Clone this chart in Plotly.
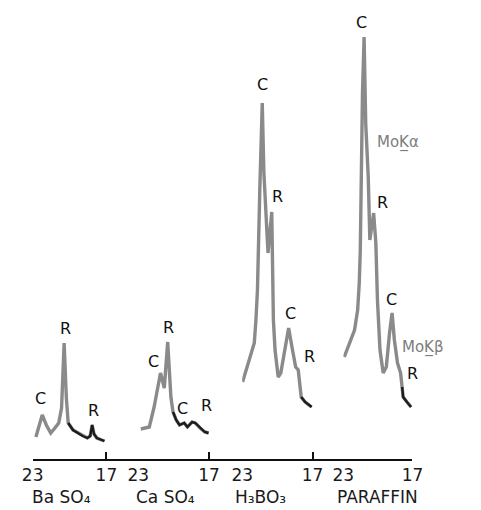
import plotly.graph_objects as go

# ---------------- data (2-theta in degrees, relative counts) ----------------
baso4_angle = [22.74, 22.22, 21.89, 21.53, 21.19, 20.88, 20.65, 20.44, 20.26, 20.11,
               19.72, 19.33, 18.94, 18.55, 18.32, 18.16, 18.01, 17.78, 17.39, 17.16]
baso4_counts = [21, 43, 33, 25, 30, 35, 50, 115, 60, 35,
                28, 25, 22, 20, 22, 33, 24, 20, 18, 17]

caso4_angle = [22.78, 22.06, 21.65, 21.25, 21.11, 20.79, 20.50, 20.23, 20.05, 19.78,
               19.50, 19.10, 18.83, 18.43, 18.16, 17.76, 17.36, 17.04]
caso4_counts = [29, 31, 51, 75, 85, 70, 116, 61, 46, 38,
                33, 35, 31, 36, 35, 30, 26, 25]

h3bo3_angle = [22.97, 22.37, 21.97, 21.83, 21.70, 21.50, 21.29, 21.15, 20.96, 20.80,
               20.48, 20.40, 20.34, 20.20, 19.93, 19.71, 19.39, 19.04, 18.71, 18.44,
               18.22, 18.08, 17.97, 17.63, 17.08]
h3bo3_counts = [76, 98, 115, 138, 168, 268, 355, 285, 241, 205,
                246, 201, 138, 108, 81, 85, 108, 130, 108, 91,
                88, 71, 61, 56, 51]

paraffin_angle = [22.92, 22.59, 22.03, 21.76, 21.62, 21.53, 21.42, 21.34, 21.20, 21.06,
                  20.84, 20.70, 20.37, 20.18, 20.04, 19.82, 19.54, 19.27, 18.99, 18.77,
                  18.57, 18.30, 18.03, 17.89, 17.81, 17.48, 17.12]
paraffin_counts = [101, 111, 128, 148, 175, 208, 315, 365, 421, 335,
                   281, 218, 245, 215, 158, 108, 85, 91, 125, 145,
                   118, 95, 85, 71, 61, 56, 51]

sample_names = ["Ba SO₄", "Ca SO₄", "H₃BO₃", "PARAFFIN"]
tick_values = [23, 17]
tick_labels = ["23", "17"]

# peak labels: (text, angle, counts) per panel
baso4_peaks = [("C", 22.38, 60), ("R", 20.31, 130), ("R", 18.03, 48)]
caso4_peaks = [("C", 21.71, 97), ("R", 20.44, 131), ("C", 19.22, 50), ("R", 17.20, 53)]
h3bo3_peaks = [("C", 21.23, 374), ("R", 19.99, 262), ("C", 18.85, 145), ("R", 17.25, 102)]
paraffin_peaks = [("C", 21.45, 436), ("R", 19.60, 256), ("C", 18.86, 159), ("R", 17.0, 85)]
paraffin_lines = [("MoK\u0332α", 20.23, 316), ("MoK\u0332β", 18.05, 111)]

# ---------------- layout / style ----------------
W, H = 481, 510
AXIS_PX = 459
tick_px = [(22.7, 100.0), (133.3, 207.5), (242.3, 316.0), (348.3, 420.7)]
GRAY = "#8a8a8a"
DARK = "#1c1c1c"
FONT = "DejaVu Sans"
# angle ranges drawn in dark ink (pen segments)
dark_ranges = [[(14, 20.15)], [(14, 20.2)], [(14, 18.0), (22.4, 24)], [(14, 17.9), (22.6, 24)]]

series = [(baso4_angle, baso4_counts), (caso4_angle, caso4_counts),
          (h3bo3_angle, h3bo3_counts), (paraffin_angle, paraffin_counts)]
peaks = [baso4_peaks, caso4_peaks, h3bo3_peaks, paraffin_peaks]

fig = go.Figure()
layout_axes = {}
for i, (ang, cnt) in enumerate(series):
    xname = "x" if i == 0 else f"x{i+1}"
    a, b = tick_px[i]
    right_px = tick_px[i + 1][0] if i < 3 else b
    scale = 6.0 / (b - a)
    rng = [23, 23 - (right_px - a) * scale]
    layout_axes["xaxis" if i == 0 else f"xaxis{i+1}"] = dict(
        domain=[a / W, right_px / W], range=rng, anchor="y",
        tickvals=tick_values, ticktext=tick_labels, ticks="inside", ticklen=7,
        tickwidth=1.5, tickcolor="#111", showline=True, linecolor="#111", linewidth=1.5,
        showgrid=False, zeroline=False,
        tickfont=dict(family=FONT, size=17, color="#1a1a1a"))
    fig.add_trace(go.Scatter(x=ang, y=cnt, mode="lines", xaxis=xname, yaxis="y",
                             line=dict(color=GRAY, width=3.4), showlegend=False,
                             hoverinfo="skip"))
    for lo, hi in dark_ranges[i]:
        idx = [k for k, v in enumerate(ang) if lo <= v <= hi]
        if len(idx) > 1:
            fig.add_trace(go.Scatter(x=[ang[k] for k in idx], y=[cnt[k] for k in idx],
                                     mode="lines", xaxis=xname, yaxis="y",
                                     line=dict(color=DARK, width=2.4), showlegend=False,
                                     hoverinfo="skip"))
    for txt, xa, ya in peaks[i]:
        fig.add_annotation(x=xa, y=ya, xref=xname, yref="y", text=txt, showarrow=False,
                           font=dict(family=FONT, size=16, color="#111"))

for txt, xa, ya in paraffin_lines:
    fig.add_annotation(x=xa, y=ya, xref="x4", yref="y", text=txt, showarrow=False,
                       xanchor="left", font=dict(family=FONT, size=15, color="#7d7d7d"))

label_px = [53, 162, 261.5, 384]
for name, px in zip(sample_names, label_px):
    fig.add_annotation(x=px / W, y=(H - 497) / H, xref="paper", yref="paper", text=name,
                       showarrow=False, xanchor="center", yanchor="middle",
                       font=dict(family=FONT, size=17, color="#1a1a1a"))

fig.update_layout(
    width=W, height=H, margin=dict(l=0, r=0, t=0, b=0),
    paper_bgcolor="white", plot_bgcolor="white",
    yaxis=dict(domain=[(H - AXIS_PX) / H, 1], range=[-1, AXIS_PX - 1], visible=False),
    **layout_axes)

fig.write_html("out.html")
